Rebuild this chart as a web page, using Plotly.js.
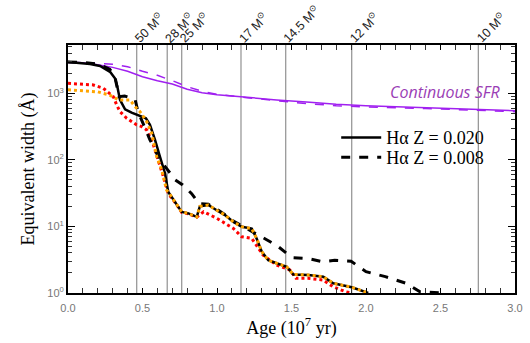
<!DOCTYPE html>
<html><head><meta charset="utf-8">
<script src="https://cdn.plot.ly/plotly-3.0.1.min.js"></script>
<style>body{margin:0;background:#fff}#c{width:530px;height:343px}</style>
</head><body><div id="c"></div>
<script>
// Continuous SFR, Z=0.020 (solid purple)
const sfr20Age = [0,0.1,0.2,0.3,0.4,0.5,0.6,0.7,0.8,0.9,1.0,1.2,1.4,1.6,1.8,2.0,2.4,2.8,3.0];
const sfr20EW  = [2945,2880,2690,2450,2140,1775,1545,1378,1148,1021,953,859,794,741,683,652,608,567,548];
// Continuous SFR, Z=0.008 (dashed purple)
const sfr08Age = [0,0.1,0.2,0.3,0.4,0.5,0.6,0.7,0.8,0.9,1.0,1.2,1.4,1.6,1.8,2.0,2.4,2.8,3.0];
const sfr08EW  = [2900,2880,2830,2720,2505,2140,1860,1545,1256,1072,966,859,768,698,652,624,590,556,530];
// H-alpha Z=0.020 (solid black)
const ha20Age = [0,0.148,0.215,0.282,0.315,0.33,0.349,0.383,0.427,0.483,0.523,0.55,0.584,0.617,0.651,0.673,0.718,0.763,0.808,0.864,0.885,0.942,0.998,1.054,1.11,1.166,1.233,1.266,1.3,1.344,1.4,1.468,1.512,1.613,1.713,1.78,1.904,2.015];
const ha20EW  = [2945,2750,2570,2100,1680,1300,794,575,513,462,421,335,200,112,63,33,23.4,16.5,15.7,13.9,20,21,17.5,14.8,11.7,9.9,9.3,6.6,4.2,3.1,2.8,2.48,1.9,1.86,1.76,1.40,1.22,1.0];
// H-alpha Z=0.008 (dashed black)
const ha08Age = [0,0.1,0.2,0.28,0.315,0.342,0.38,0.45,0.47,0.51,0.55,0.584,0.617,0.66,0.72,0.77,0.83,0.88,0.91,0.942,1.0,1.054,1.11,1.166,1.2,1.28,1.4,1.47,1.51,1.61,1.71,1.79,1.9,2.0,2.13,2.27,2.36,2.52];
const ha08EW  = [2950,2900,2750,2300,1775,890,910,813,530,316,200,141,100,75,50,42,31,22,21.5,21.5,18,15,12,10.2,9.5,7.4,5.2,3.9,3.4,3.3,2.95,3.1,3.0,2.09,1.76,1.4,1.05,1.0];
// orange dotted
const orAge = [0,0.1,0.2,0.28,0.315,0.34,0.416,0.45,0.483,0.528,0.562,0.595,0.629,0.662,0.673,0.718,0.763,0.808,0.864,0.885,0.942,0.998,1.054,1.11,1.166,1.233,1.266,1.3,1.344,1.4,1.468,1.512,1.613,1.713,1.78,1.904,2.015];
const orEW  = [1130,1100,1050,940,840,794,794,630,530,376,251,112,71,35,33,23.4,16.5,15.7,13.9,20,21,17.5,14.8,11.7,9.9,9.3,6.6,4.2,3.1,2.8,2.48,1.9,1.86,1.76,1.40,1.22,1.0];
// red dotted
const rdAge = [0,0.17,0.237,0.304,0.327,0.349,0.394,0.461,0.494,0.528,0.573,0.606,0.64,0.673,0.718,0.763,0.808,0.864,0.91,1.0,1.11,1.166,1.233,1.31,1.4,1.49,1.53,1.61,1.71,1.78,1.86,1.9];
const rdEW  = [1410,1333,1190,890,668,530,421,335,316,282,168,100,56,31,23,16.3,15.5,13.8,16.6,13.2,9.3,7,6.6,3.7,2.63,2.21,1.66,1.66,1.57,1.24,1.05,1.0];
// stellar mass markers
const massAge = [0.461,0.666,0.763,1.161,1.461,1.904,2.754];
const massLabel = ['50','28','25','17','14.5','12','10'];
const xTickVals = [0,0.5,1,1.5,2,2.5,3];
const xTickText = ['0.0','0.5','1.0','1.5','2.0','2.5','3.0'];
const yTickVals = [1,10,100,1000];
const yTickText = ['10<sup>0</sup>','10<sup>1</sup>','10<sup>2</sup>','10<sup>3</sup>'];

const purple = '#a020f0';
const traces = [
 {x:sfr20Age,y:sfr20EW,mode:'lines',line:{color:purple,width:1.5},showlegend:false},
 {x:sfr08Age,y:sfr08EW,mode:'lines',line:{color:purple,width:1.5,dash:'dash'},showlegend:false},
 {x:rdAge,y:rdEW,mode:'lines',line:{color:'#ff0000',width:3,dash:'dot'},showlegend:false},
 {x:ha08Age,y:ha08EW,mode:'lines',line:{color:'#000',width:3,dash:'dash'},name:'H\u03b1 Z = 0.008',legend:'legend2'},
 {x:ha20Age,y:ha20EW,mode:'lines',line:{color:'#000',width:2.5},name:'H\u03b1 Z = 0.020',legend:'legend'},
 {x:orAge,y:orEW,mode:'lines',line:{color:'#ffa500',width:3,dash:'dot'},showlegend:false}
];
const shapes = massAge.map(a=>({type:'line',xref:'x',yref:'paper',x0:a,x1:a,y0:0,y1:1,line:{color:'#999',width:1.3},layer:'below'}));
const annotations = massAge.map((a,i)=>({x:a,y:1,xref:'x',yref:'paper',text:massLabel[i]+' M<sup>\u2299</sup>',showarrow:false,textangle:-45,xanchor:'left',yanchor:'bottom',xshift:-9,yshift:-3,font:{family:'Liberation Sans',size:12.5,color:'#222'}}));
annotations.push({x:2.91,y:Math.log10(1060),xref:'x',yref:'y',text:'<i>Continuous SFR</i>',showarrow:false,xanchor:'right',yanchor:'middle',font:{family:'Open Sans',size:16,color:'#9a3db5'}});

const legFont = {family:'Liberation Serif',size:18,color:'#000'};
const layout = {
 width:530,height:343,margin:{l:68,r:15,t:45,b:50},
 paper_bgcolor:'#fff',plot_bgcolor:'#fff',
 xaxis:{range:[0,3],tickvals:xTickVals,ticktext:xTickText,ticks:'inside',ticklen:5,tickcolor:'#000',ticklabelstandoff:4,
   minor:{dtick:0.1,ticks:'inside',ticklen:5,tickcolor:'#333'},
   showline:true,linewidth:2,linecolor:'#000',mirror:'ticks',showgrid:false,zeroline:false,
   tickfont:{family:'Liberation Sans',size:11,color:'#777'},
   title:{text:'Age (10<sup>7</sup> yr)',font:{family:'Liberation Serif',size:18,color:'#000'},standoff:8}},
 yaxis:{type:'log',range:[0,3.725],tickvals:yTickVals,ticktext:yTickText,ticks:'inside',ticklen:7,tickcolor:'#000',
   minor:{tickvals:[2,3,4,5,6,7,8,9,20,30,40,50,60,70,80,90,200,300,400,500,600,700,800,900,2000,3000,4000,5000],ticks:'inside',ticklen:4,tickcolor:'#333'},
   showline:true,linewidth:2,linecolor:'#000',mirror:'ticks',showgrid:false,zeroline:false,
   tickfont:{family:'Liberation Sans',size:11,color:'#777'},
   title:{text:'Equivalent width (\u00c5)',font:{family:'Liberation Serif',size:18,color:'#000'},standoff:8}},
 legend:{x:0.6,y:0.626,xanchor:'left',yanchor:'middle',bgcolor:'rgba(0,0,0,0)',font:legFont,itemwidth:40},
 legend2:{x:0.6,y:0.546,xanchor:'left',yanchor:'middle',bgcolor:'rgba(0,0,0,0)',font:legFont,itemwidth:40},
 shapes:shapes,annotations:annotations
};
Plotly.newPlot('c',traces,layout,{staticPlot:true});
</script></body></html>
